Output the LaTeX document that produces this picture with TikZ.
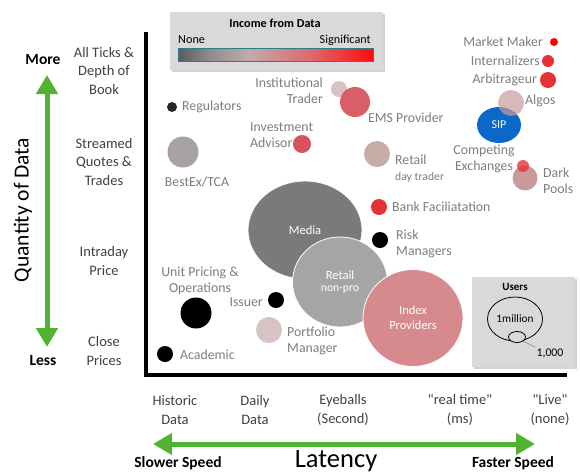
\documentclass[tikz,border=0pt]{standalone}
\usepackage{fontspec}
\setmainfont{Carlito}[Ligatures=TeXOff]
\usetikzlibrary{arrows.meta,shapes.geometric,shadows}
\newcommand{\smalltxtfont}{\fontsize{11.7}{13}\selectfont}
\definecolor{arrowgreen}{RGB}{80,180,50}
\definecolor{labgray}{RGB}{125,125,125}
\definecolor{axgray}{RGB}{64,64,64}
\definecolor{boxgray}{RGB}{217,217,217}
\definecolor{barborder}{RGB}{45,125,140}
\definecolor{brightred}{RGB}{230,50,55}
\definecolor{emsred}{RGB}{215,80,90}
\definecolor{rosy}{RGB}{200,155,155}
\definecolor{daytr}{RGB}{200,172,166}
\definecolor{lightrosy}{RGB}{215,195,195}
\definecolor{bestex}{RGB}{168,162,162}
\definecolor{mediagray}{RGB}{122,122,122}
\definecolor{retailgray}{RGB}{165,165,165}
\definecolor{indexpink}{RGB}{214,138,142}
\definecolor{sipblue}{RGB}{10,104,200}
\definecolor{shA}{RGB}{60,60,60}
\definecolor{shB}{RGB}{135,135,135}
\definecolor{shC}{RGB}{192,172,172}
\definecolor{shD}{RGB}{224,100,105}
\pgfdeclarehorizontalshading{incomeshade}{100bp}{color(0bp)=(black); color(8bp)=(black); color(20bp)=(shA); color(32bp)=(shB); color(43bp)=(shC); color(60bp)=(shD); color(77bp)=(red); color(100bp)=(red)}
\tikzset{
  lbl/.style={font=\fontsize{13.8}{16}\selectfont, text=labgray, inner sep=0pt},
  axlbl/.style={font=\fontsize{14.5}{18.5}\selectfont, text=axgray, inner sep=0pt, align=center},
  boldlbl/.style={font=\fontsize{15.5}{17}\selectfont\bfseries, text=black, inner sep=0pt},
  bub/.style={circle, inner sep=0pt},
  bigbub/.style={ellipse, inner sep=0pt, draw=white, line width=0.8pt, text=white, align=center, font=\fontsize{12.5}{15}\selectfont},
  greenarrow/.style={draw=arrowgreen, line width=5pt, {Triangle[width=21pt,length=19pt]}-{Triangle[width=21pt,length=19pt]}},
  legbox/.style={fill=boxgray, draw=none, drop shadow={shadow xshift=2pt, shadow yshift=-2pt, opacity=0.35}},
  legtxt/.style={inner sep=0pt, font=\fontsize{12.2}{14}\selectfont, text=black},
}
\begin{document}
\begin{tikzpicture}[x=1pt,y=-1pt]
\useasboundingbox (0,0) rectangle (580,475);

% legend: income
\node[legbox, minimum width=213pt, minimum height=58pt] (incbox) at (276.5,41) {};
\node[legtxt, font=\fontsize{12.2}{14}\selectfont\bfseries] (inctitle) at (275,23) {Income from Data};
\node[legtxt, anchor=west] (none) at (178,40) {None};
\node[legtxt, anchor=east] (signif) at (371,40) {Significant};
\node[shade, shading=incomeshade, draw=barborder, line width=1pt, minimum width=195pt, minimum height=13pt, inner sep=0pt] (bar) at (275.5,54.5) {};

% axes
\coordinate (axtop) at (146,32);
\coordinate (axcorner) at (146,375);
\coordinate (axright) at (567,375);
\draw[line width=4pt, line join=miter] (axtop) -- (axcorner) -- (axright);

% y axis
\coordinate (yup) at (47,75);
\coordinate (ydown) at (47,347);
\draw[greenarrow] (yup) -- (ydown);
\node[boldlbl] (more) at (43,60) {More};
\node[boldlbl] (less) at (43,361) {Less};
\node[rotate=90, font=\fontsize{21.5}{23}\selectfont, inner sep=0pt] (qty) at (23,210) {Quantity of Data};
\node[axlbl] (yt1) at (104,71) {All Ticks \&\\Depth of\\Book};
\node[axlbl] (yt2) at (104,162) {Streamed\\Quotes \&\\Trades};
\node[axlbl] (yt3) at (104,261) {Intraday\\Price};
\node[axlbl] (yt4) at (104,351) {Close\\Prices};

% x axis
\coordinate (xleft) at (153,444);
\coordinate (xright) at (535,444);
\draw[greenarrow] (xleft) -- (xright);
\node[axlbl] (xt1) at (175,410) {Historic\\Data};
\node[axlbl] (xt2) at (255,410) {Daily\\Data};
\node[axlbl] (xt3) at (343,410) {Eyeballs\\(Second)};
\node[axlbl] (xt4) at (460,410) {"real time"\\(ms)};
\node[axlbl] (xt5) at (550,410) {"Live"\\(none)};
\node[boldlbl] (slower) at (178,463) {Slower Speed};
\node[boldlbl] (faster) at (513,463) {Faster Speed};
\node[font=\fontsize{26.5}{28}\selectfont, inner sep=0pt] (latency) at (336,461) {Latency};

% big bubbles
\node[bigbub, fill=mediagray, minimum width=114pt, minimum height=98pt] (media) at (305,230) {Media};
\node[bigbub, fill=retailgray, minimum width=95pt, minimum height=90pt] (retail) at (340,282) {Retail\\[-3pt]{\smalltxtfont non-pro}};
\node[bigbub, fill=indexpink, minimum width=100pt, minimum height=97pt] (index) at (413,318) {Index\\Providers};

% right cluster
\node[bub, fill=red, minimum size=8pt] (mm) at (554,42) {};
\node[lbl, anchor=east] (mmlab) at (543,42) {Market Maker};
\node[bub, fill=brightred, minimum size=12pt] (int) at (548,61) {};
\node[lbl, anchor=east] (intlab) at (540,61) {Internalizers};
\node[bub, fill=brightred, minimum size=16pt] (arb) at (548,80) {};
\node[lbl, anchor=east] (arblab) at (537,80) {Arbitrageur};
\node[ellipse, inner sep=0pt, fill=sipblue, minimum width=44pt, minimum height=36pt, text=white, font=\fontsize{12}{13}\selectfont] (sip) at (499,125) {SIP};
\node[bub, fill=rosy, fill opacity=0.7, minimum size=26pt] (algos) at (511,103) {};
\node[lbl, anchor=west] (algolab) at (525,101) {Algos};
\node[lbl, align=center] (complab) at (484,159) {Competing\\Exchanges};
\node[bub, fill=rosy, minimum size=25pt] (dark) at (525,178) {};
\node[bub, fill=brightred, fill opacity=0.8, minimum size=12pt] (compex) at (523,166) {};
\node[lbl, anchor=west, align=left] (darklab) at (543,181) {Dark\\Pools};

% middle / upper
\node[bub, fill=lightrosy, minimum size=16pt] (inst) at (339,89) {};
\node[bub, fill=emsred, fill opacity=0.92, minimum size=30pt] (ems) at (355,102) {};
\node[lbl, anchor=east, align=right] (instlab) at (323,91) {Institutional\\Trader};
\node[lbl, anchor=west] (emslab) at (368,118) {EMS Provider};
\node[bub, fill=black!85, minimum size=10pt] (reg) at (172,107) {};
\node[lbl, anchor=west] (reglab) at (182,107) {Regulators};
\node[lbl, anchor=west, align=left] (invlab) at (250,135) {Investment\\Advisor};
\node[bub, fill=emsred, minimum size=18pt] (inv) at (302,144) {};
\node[bub, fill=bestex, minimum size=31pt] (best) at (183,152) {};
\node[lbl] (bestlab) at (197,182) {BestEx/TCA};
\node[bub, fill=daytr, minimum size=26pt] (day) at (377,154) {};
\node[lbl, anchor=west, align=left] (daylab) at (395,169) {Retail\\{\smalltxtfont day trader}};
\node[bub, fill=brightred, minimum size=16pt] (bank) at (379,207) {};
\node[lbl, anchor=west] (banklab) at (392,207) {Bank Faciliatation};
\node[bub, fill=black, minimum size=16pt] (risk) at (380,240) {};
\node[lbl, anchor=west, align=left] (risklab) at (396,244) {Risk\\Managers};

% lower left
\node[lbl, align=center] (unitlab) at (200,281) {Unit Pricing \&\\Operations};
\node[bub, fill=black, minimum size=31pt] (unit) at (196,313) {};
\node[bub, fill=black, minimum size=16pt] (issuer) at (276,300) {};
\node[lbl, anchor=east] (issuerlab) at (263,302) {Issuer};
\node[bub, fill=lightrosy, minimum size=26pt] (port) at (269,330) {};
\node[lbl, anchor=west, align=left] (portlab) at (287,341) {Portfolio\\Manager};
\node[bub, fill=black, minimum size=16pt] (acad) at (165,354) {};
\node[lbl, anchor=west] (acadlab) at (180,355) {Academic};

% legend: users
\node[legbox, minimum width=103pt, minimum height=90pt] (userbox) at (523.5,322) {};
\node[inner sep=0pt, font=\fontsize{11}{12}\selectfont\bfseries] (userstitle) at (515,287) {Users};
\node[ellipse, draw, line width=0.8pt, inner sep=0pt, minimum width=55pt, minimum height=44pt, font=\fontsize{11.3}{12}\selectfont] (umil) at (515,319) {1million};
\node[ellipse, draw, line width=0.8pt, fill=boxgray, inner sep=0pt, minimum width=17pt, minimum height=11pt] (uthou) at (517,337) {};
\node[inner sep=1pt, font=\fontsize{11.8}{13}\selectfont, text=black] (thoulab) at (550,353) {1,000};
\draw[gray, line width=0.6pt] (uthou.south east) -- (thoulab.north west);
\end{tikzpicture}
\end{document}
